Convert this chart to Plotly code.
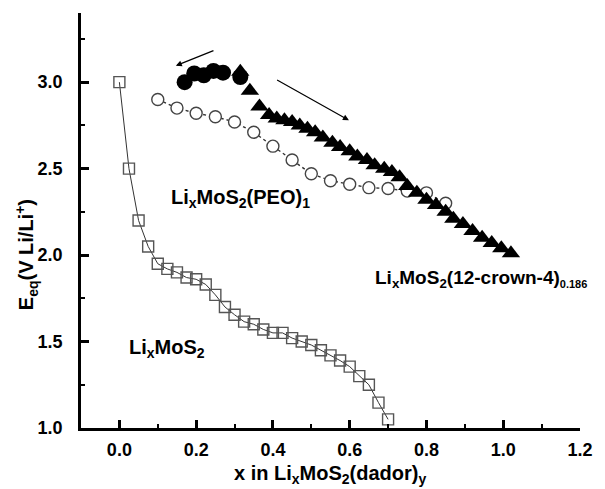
import plotly.graph_objects as go

# LixMoS2 (open squares)
sq_x = [0.0, 0.025, 0.05, 0.075, 0.10, 0.125, 0.15, 0.175, 0.20, 0.225, 0.25, 0.275, 0.30, 0.325,
        0.35, 0.375, 0.40, 0.425, 0.45, 0.475, 0.50, 0.525, 0.55, 0.575, 0.60, 0.625, 0.65, 0.675, 0.70]
sq_y = [3.00, 2.50, 2.20, 2.05, 1.95, 1.92, 1.90, 1.87, 1.86, 1.83, 1.77, 1.70, 1.655, 1.615,
        1.60, 1.57, 1.55, 1.55, 1.52, 1.50, 1.48, 1.45, 1.42, 1.39, 1.355, 1.30, 1.25, 1.147, 1.05]

# LixMoS2(PEO)1 (open circles)
peo_x = [0.10, 0.15, 0.20, 0.25, 0.30, 0.35, 0.40, 0.45, 0.50, 0.55, 0.60, 0.65, 0.70, 0.75, 0.80, 0.85]
peo_y = [2.90, 2.85, 2.82, 2.80, 2.77, 2.71, 2.63, 2.55, 2.47, 2.43, 2.41, 2.39, 2.385, 2.37, 2.36, 2.30]

# filled circles (reverse direction)
fc_x = [0.17, 0.195, 0.22, 0.245, 0.27, 0.315]
fc_y = [3.00, 3.05, 3.04, 3.065, 3.055, 3.03]

# LixMoS2(12-crown-4)0.186 (filled triangles)
tr_x = [0.315, 0.34, 0.365, 0.39, 0.41, 0.43, 0.45, 0.47, 0.49, 0.51, 0.53, 0.555, 0.575, 0.60,
        0.62, 0.645, 0.665, 0.69, 0.71, 0.73, 0.75, 0.775, 0.80, 0.825, 0.85, 0.87, 0.895, 0.92,
        0.945, 0.97, 0.995, 1.02]
tr_y = [3.06, 2.95, 2.86, 2.81, 2.79, 2.78, 2.77, 2.75, 2.73, 2.71, 2.68, 2.65, 2.625, 2.60,
        2.57, 2.55, 2.52, 2.50, 2.48, 2.45, 2.40, 2.36, 2.32, 2.29, 2.25, 2.21, 2.18, 2.14,
        2.10, 2.07, 2.04, 2.01]

x_ticks = [0.0, 0.2, 0.4, 0.6, 0.8, 1.0, 1.2]
x_ticklabels = ["0.0", "0.2", "0.4", "0.6", "0.8", "1.0", "1.2"]
y_ticks = [1.0, 1.5, 2.0, 2.5, 3.0]
y_ticklabels = ["1.0", "1.5", "2.0", "2.5", "3.0"]

FONT = "Liberation Sans, Arial, sans-serif"

fig = go.Figure()
fig.add_trace(go.Scatter(x=sq_x, y=sq_y, mode="lines+markers",
                         line=dict(color="#333", width=1),
                         marker=dict(symbol="square-open", size=11, color="#555", line=dict(width=1.4))))
fig.add_trace(go.Scatter(x=peo_x, y=peo_y, mode="lines+markers",
                         line=dict(color="#333", width=1.4, dash="3px,3px"),
                         marker=dict(symbol="circle", size=12, color="white",
                                     line=dict(color="#444", width=1.4))))
fig.add_trace(go.Scatter(x=fc_x, y=fc_y, mode="markers",
                         marker=dict(symbol="circle", size=16, color="black")))
fig.add_trace(go.Scatter(x=tr_x, y=tr_y, mode="markers",
                         marker=dict(symbol="triangle-up", size=16, color="black")))

axis_common = dict(showline=True, linecolor="black", linewidth=2.5, ticks="inside",
                   tickwidth=2.5, ticklen=8, tickcolor="black", showgrid=False, zeroline=False,
                   tickfont=dict(family=FONT, size=18, color="black", weight="bold"),
                   minor=dict(ticks="inside", ticklen=4, tickwidth=2, tickcolor="black"))

fig.update_xaxes(range=[-0.1, 1.2], tickvals=x_ticks, ticktext=x_ticklabels,
                 minor_dtick=0.1, minor_tick0=0, ticklabelstandoff=4, **axis_common)
fig.update_yaxes(range=[1.0, 3.4], tickvals=y_ticks, ticktext=y_ticklabels,
                 minor_dtick=0.25, minor_tick0=1.0, ticklabelstandoff=12, **axis_common)

lab = dict(family=FONT, size=20, color="black", weight="bold")
ann = [
    dict(x=0.13, y=2.33, xref="x", yref="y", xanchor="left", yanchor="middle", showarrow=False,
         text="Li<sub>x</sub>MoS<sub>2</sub>(PEO)<sub>1</sub>", font=lab),
    dict(x=0.02, y=1.46, xref="x", yref="y", xanchor="left", yanchor="middle", showarrow=False,
         text="Li<sub>x</sub>MoS<sub>2</sub>", font=lab),
    dict(x=0.662, y=1.86, xref="x", yref="y", xanchor="left", yanchor="middle", showarrow=False,
         text="Li<sub>x</sub>MoS<sub>2</sub>(12-crown-4)<sub><span style='font-size:11px'>0.186</span></sub>",
         font=dict(family=FONT, size=19, color="black", weight="bold")),
    dict(x=-0.11, y=2.0, xref="paper", yref="y", xanchor="center", yanchor="middle",
         showarrow=False, textangle=-90,
         text="E<sub>eq</sub>(V Li/Li<sup>+</sup>)", font=lab),
    dict(x=0.5, y=-0.113, xref="paper", yref="paper", xanchor="center", yanchor="middle",
         showarrow=False, text="x in Li<sub>x</sub>MoS<sub>2</sub>(dador)<sub>y</sub>", font=lab),
    dict(x=0.147, y=3.095, ax=0.249, ay=3.186, xref="x", yref="y", axref="x", ayref="y",
         showarrow=True, arrowhead=2, arrowsize=1, arrowwidth=1.2, arrowcolor="black", text=""),
    dict(x=0.598, y=2.78, ax=0.407, ay=3.017, xref="x", yref="y", axref="x", ayref="y",
         showarrow=True, arrowhead=2, arrowsize=1, arrowwidth=1.2, arrowcolor="black", text=""),
]

fig.update_layout(width=605, height=489, margin=dict(l=81, r=16, t=13, b=61),
                  plot_bgcolor="white", paper_bgcolor="white", showlegend=False,
                  annotations=ann)

fig.write_html("out.html")
